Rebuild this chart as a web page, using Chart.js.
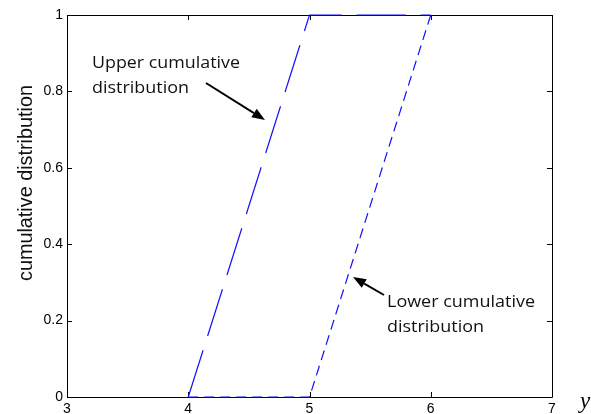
<!DOCTYPE html>
<html>
<head>
<meta charset="utf-8">
<script src="https://cdn.jsdelivr.net/npm/chart.js@4/dist/chart.umd.min.js"></script>
<style>
  html, body { margin: 0; padding: 0; background: #fff; }
  #wrap { width: 591px; height: 414px; }
</style>
</head>
<body>
<div id="wrap"><canvas id="c" width="591" height="414"></canvas></div>
<script>
// Values of y where the bounds change slope
const yPoints = [4, 5, 6];
// Upper and lower cumulative distribution bounds at those points
const upperCdf = [0, 1, 1];
const lowerCdf = [0, 0, 1];
// Axis ticks
const xTicks = [3, 4, 5, 6, 7];
const yTicks = [0, 0.2, 0.4, 0.6, 0.8, 1];

const toPoints = (xs, ys) => xs.map((x, i) => ({ x: x, y: ys[i] }));

// Box around the plot with short inward tick marks on every side
const framePlugin = {
  id: 'frame',
  beforeDatasetsDraw(chart) {
    const { ctx, chartArea: a, scales } = chart;
    ctx.save();
    ctx.strokeStyle = '#000';
    ctx.lineWidth = 1;
    ctx.beginPath();
    ctx.rect(Math.round(a.left) + 0.5, Math.round(a.top) + 0.5,
             Math.round(a.right - a.left), Math.round(a.bottom - a.top));
    ctx.stroke();
    const L = 5;
    ctx.beginPath();
    xTicks.forEach(v => {
      const px = Math.round(scales.x.getPixelForValue(v)) + 0.5;
      ctx.moveTo(px, a.bottom); ctx.lineTo(px, a.bottom - L);
      ctx.moveTo(px, a.top); ctx.lineTo(px, a.top + L);
    });
    yTicks.forEach(v => {
      const py = Math.round(scales.y.getPixelForValue(v)) + 0.5;
      ctx.moveTo(a.left, py); ctx.lineTo(a.left + L, py);
      ctx.moveTo(a.right, py); ctx.lineTo(a.right - L, py);
    });
    ctx.stroke();
    ctx.restore();
  }
};

function arrow(ctx, x0, y0, x1, y1) {
  const ang = Math.atan2(y1 - y0, x1 - x0);
  const hl = 13, hw = 5;
  const bx = x1 - hl * Math.cos(ang), by = y1 - hl * Math.sin(ang);
  ctx.beginPath();
  ctx.moveTo(x0, y0);
  ctx.lineTo(bx, by);
  ctx.lineWidth = 2;
  ctx.strokeStyle = '#000';
  ctx.stroke();
  ctx.beginPath();
  ctx.moveTo(x1, y1);
  ctx.lineTo(bx + hw * Math.sin(ang), by - hw * Math.cos(ang));
  ctx.lineTo(bx - hw * Math.sin(ang), by + hw * Math.cos(ang));
  ctx.closePath();
  ctx.fillStyle = '#000';
  ctx.fill();
}

// Draw a line of text stretched to a given width
function fitText(ctx, txt, x, y, width) {
  const w = ctx.measureText(txt).width;
  ctx.save();
  ctx.translate(x, y);
  ctx.scale(width / w, 1);
  ctx.fillText(txt, 0, 0);
  ctx.restore();
}

// Axis titles and the two call-outs
const textPlugin = {
  id: 'texts',
  afterDraw(chart) {
    const { ctx } = chart;
    ctx.save();
    // y-axis title
    ctx.font = '20px "Liberation Sans", Arial, sans-serif';
    ctx.fillStyle = '#111';
    const title = 'cumulative distribution';
    const w = ctx.measureText(title).width;
    ctx.translate(32, 183);
    ctx.rotate(-Math.PI / 2);
    ctx.scale(196 / w, 1);
    ctx.textAlign = 'center';
    ctx.textBaseline = 'alphabetic';
    ctx.fillText(title, 0, 0);
    ctx.restore();

    ctx.save();
    // x-axis variable
    ctx.font = 'italic 23px "Liberation Serif", "Times New Roman", serif';
    ctx.fillStyle = '#000';
    ctx.textAlign = 'left';
    ctx.textBaseline = 'alphabetic';
    ctx.fillText('y', 580, 408);

    // call-outs
    ctx.font = '17px "Open Sans", sans-serif';
    ctx.fillStyle = '#111';
    fitText(ctx, 'Upper cumulative', 92, 68, 148);
    fitText(ctx, 'distribution', 92, 93, 97);
    fitText(ctx, 'Lower cumulative', 387, 307, 148);
    fitText(ctx, 'distribution', 387, 332, 97);
    arrow(ctx, 206, 83, 265, 120);
    arrow(ctx, 384, 295, 353, 277);
    ctx.restore();
  }
};

new Chart(document.getElementById('c'), {
  type: 'scatter',
  data: {
    datasets: [
      {
        label: 'Upper cumulative distribution',
        data: toPoints(yPoints, upperCdf),
        showLine: true,
        borderColor: '#1010ff',
        borderWidth: 1.2,
        borderDash: [49, 15],
        pointRadius: 0,
        fill: false,
        tension: 0,
        clip: false
      },
      {
        label: 'Lower cumulative distribution',
        data: toPoints(yPoints, lowerCdf),
        showLine: true,
        borderColor: '#1010ff',
        borderWidth: 1.2,
        borderDash: [10, 6],
        pointRadius: 0,
        fill: false,
        tension: 0,
        clip: false
      }
    ]
  },
  options: {
    responsive: false,
    animation: false,
    devicePixelRatio: 1,
    layout: { padding: { top: 15, right: 39, left: 0, bottom: 0 } },
    plugins: { legend: { display: false }, tooltip: { enabled: false } },
    scales: {
      x: {
        type: 'linear',
        min: 3, max: 7,
        afterBuildTicks: s => { s.ticks = xTicks.map(v => ({ value: v })); },
        afterFit: s => { s.height = 17; },
        grid: { display: false, drawTicks: false },
        border: { display: false },
        ticks: {
          color: '#000',
          padding: 4,
          font: { family: '"Liberation Sans", Arial, sans-serif', size: 14 },
          maxRotation: 0
        }
      },
      y: {
        type: 'linear',
        min: 0, max: 1,
        afterBuildTicks: s => { s.ticks = yTicks.map(v => ({ value: v })); },
        afterFit: s => { s.width = 67; },
        grid: { display: false, drawTicks: false },
        border: { display: false },
        ticks: {
          color: '#000',
          padding: 4,
          font: { family: '"Liberation Sans", Arial, sans-serif', size: 14 },
          callback: v => String(Number(v.toFixed(1)))
        }
      }
    }
  },
  plugins: [framePlugin, textPlugin]
});
</script>
</body>
</html>
